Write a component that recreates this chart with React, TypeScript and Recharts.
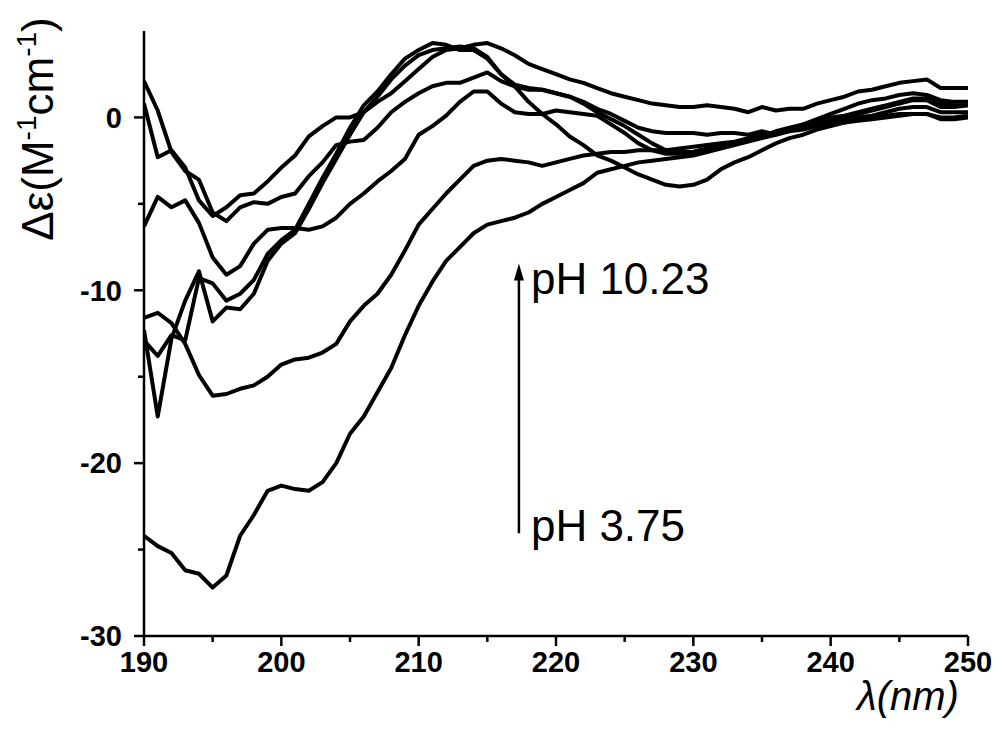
import React from 'react';
import { LineChart, Line, XAxis, YAxis, ReferenceLine } from 'recharts';

// wavelength grid, nm
const wavelengths = [
  190, 191, 192, 193, 194, 195, 196, 197, 198, 199,
  200, 201, 202, 203, 204, 205, 206, 207, 208, 209,
  210, 211, 212, 213, 214, 215, 216, 217, 218, 219,
  220, 221, 222, 223, 224, 225, 226, 227, 228, 229,
  230, 231, 232, 233, 234, 235, 236, 237, 238, 239,
  240, 241, 242, 243, 244, 245, 246, 247, 248, 249, 250,
];

// delta epsilon values (M-1 cm-1), one array per spectrum
const spectrumPh375 = [
  -24.2, -24.8, -25.2, -26.2, -26.4, -27.2, -26.5, -24.2, -23.0, -21.6,
  -21.3, -21.5, -21.6, -21.1, -20.0, -18.3, -17.3, -15.9, -14.5, -12.6,
  -10.9, -9.5, -8.3, -7.5, -6.7, -6.2, -6.0, -5.8, -5.5, -5.0,
  -4.6, -4.2, -3.8, -3.2, -3.0, -2.8, -2.6, -2.5, -2.4, -2.3,
  -2.2, -2.0, -1.8, -1.6, -1.4, -1.2, -1.0, -0.8, -0.7, -0.5,
  -0.4, -0.3, -0.2, -0.1, 0.0, 0.1, 0.2, 0.2, -0.1, -0.1, 0.0,
];

const spectrum2 = [
  -11.6, -11.3, -11.9, -13.1, -14.9, -16.1, -16.0, -15.7, -15.5, -15.0,
  -14.3, -14.0, -13.9, -13.6, -13.1, -11.8, -10.9, -10.2, -9.1, -7.7,
  -6.2, -5.3, -4.4, -3.6, -2.8, -2.5, -2.4, -2.5, -2.6, -2.8,
  -2.6, -2.4, -2.2, -2.1, -2.0, -2.0, -1.9, -1.9, -1.9, -1.8,
  -1.7, -1.6, -1.5, -1.4, -1.2, -1.0, -0.9, -0.7, -0.5, -0.4,
  -0.2, -0.1, 0.0, 0.1, 0.3, 0.5, 0.6, 0.6, 0.3, 0.3, 0.3,
];

const spectrum3 = [
  -6.3, -4.6, -5.2, -4.8, -6.1, -8.1, -9.1, -8.6, -7.3, -6.5,
  -6.4, -6.4, -6.5, -6.3, -5.8, -5.0, -4.4, -3.7, -3.1, -2.4,
  -1.0, -0.5, 0.1, 0.9, 1.5, 1.5, 0.8, 0.3, 0.2, 0.2,
  0.4, 0.3, 0.2, 0.1, -0.4, -0.9, -1.5, -1.9, -2.1, -2.1,
  -2.0, -1.8, -1.6, -1.5, -1.3, -1.1, -0.8, -0.6, -0.4, -0.2,
  0.0, 0.1, 0.3, 0.5, 0.7, 0.9, 1.1, 1.1, 0.8, 0.7, 0.7,
];

const spectrum4 = [
  -12.3, -17.3, -12.8, -10.6, -8.9, -11.8, -11.0, -11.1, -10.2, -8.3,
  -7.3, -6.7, -5.3, -3.8, -2.4, -1.0, 0.3, 1.2, 2.2, 3.0,
  3.6, 3.9, 4.0, 4.1, 4.0, 3.5, 2.5, 1.9, 1.7, 1.6,
  1.4, 1.2, 0.9, 0.5, 0.2, -0.2, -0.6, -0.8, -0.9, -0.9,
  -0.9, -1.0, -0.9, -0.9, -1.0, -0.8, -1.0, -0.7, -0.4, -0.1,
  0.2, 0.5, 0.8, 1.0, 1.1, 1.3, 1.4, 1.3, 1.0, 0.9, 0.9,
];

const spectrum5 = [
  -12.9, -13.8, -12.6, -12.9, -9.3, -9.6, -10.6, -10.2, -9.4, -7.9,
  -7.1, -6.5, -5.0, -3.5, -2.1, -0.6, 0.7, 1.5, 2.5, 3.4,
  3.9, 4.3, 4.2, 3.9, 3.9, 3.4, 2.5, 1.8, 0.9, 0.2,
  -0.4, -1.1, -1.6, -2.2, -2.5, -2.9, -3.3, -3.6, -3.9, -4.0,
  -3.9, -3.6, -3.0, -2.6, -2.3, -1.9, -1.5, -1.2, -1.0, -0.7,
  -0.5, -0.3, -0.1, 0.0, 0.1, 0.2, 0.2, 0.2, 0.0, 0.0, 0.1,
];

const spectrum6 = [
  2.1, 0.4, -2.0, -3.1, -3.6, -5.5, -6.0, -5.2, -4.9, -5.0,
  -4.6, -4.4, -3.4, -2.6, -1.6, -1.4, -1.3, -0.6, 0.3, 0.9,
  1.4, 1.8, 2.0, 2.0, 2.3, 2.6, 2.1, 1.8, 1.6, 1.6,
  1.4, 1.2, 0.8, 0.3, -0.1, -0.5, -1.0, -1.5, -1.9, -2.0,
  -2.0, -1.8, -1.7, -1.5, -1.3, -1.1, -0.9, -0.7, -0.5, -0.3,
  -0.1, 0.0, 0.2, 0.4, 0.6, 0.8, 1.0, 1.0, 0.6, 0.6, 0.7,
];

const spectrumPh1023 = [
  0.8, -2.3, -1.9, -2.9, -4.8, -5.7, -5.2, -4.5, -4.4, -3.7,
  -2.9, -2.2, -1.1, -0.5, 0.0, 0.0, 0.3, 0.9, 1.4, 2.1,
  2.8, 3.5, 3.9, 4.0, 4.2, 4.3, 4.0, 3.6, 3.1, 2.8,
  2.5, 2.2, 2.0, 1.7, 1.4, 1.2, 1.0, 0.8, 0.7, 0.6,
  0.6, 0.7, 0.6, 0.5, 0.3, 0.6, 0.4, 0.5, 0.5, 0.8,
  1.0, 1.2, 1.5, 1.6, 1.8, 2.0, 2.1, 2.2, 1.7, 1.7, 1.7,
];

const allSpectra = [spectrumPh375, spectrum2, spectrum3, spectrum4, spectrum5, spectrum6, spectrumPh1023];

const xTicks = [190, 195, 200, 205, 210, 215, 220, 225, 230, 235, 240, 245, 250];
const yTicks = [-30, -25, -20, -15, -10, -5, 0];

const toPoints = (vals: number[]) => wavelengths.map((x, i) => ({ x, y: vals[i] }));

const sans = '"Liberation Sans", Arial, Helvetica, sans-serif';
const tickFont = { fontFamily: sans, fontSize: 29, fontWeight: 700, fill: '#000' };

const BottomTick = (props: any) => {
  const { x, y, payload } = props;
  const major = payload.value % 10 === 0;
  return (
    <g>
      <line x1={x} y1={y} x2={x} y2={y + (major ? 10 : 6)} stroke="#000" strokeWidth={2.5} />
      {major && (
        <text x={x} y={y + 15} dy="0.71em" textAnchor="middle" style={tickFont}>
          {payload.value}
        </text>
      )}
    </g>
  );
};

const LeftTick = (props: any) => {
  const { x, y, payload } = props;
  const major = payload.value % 10 === 0;
  return (
    <g>
      <line x1={x - (major ? 10 : 6)} y1={y} x2={x} y2={y} stroke="#000" strokeWidth={2.5} />
      {major && (
        <text x={x - 22} y={y} dy="0.355em" textAnchor="end" style={tickFont}>
          {payload.value}
        </text>
      )}
    </g>
  );
};

// arrow from pH 3.75 up to pH 10.23, with the two labels
const PhArrow = (props: any) => {
  const { x1, y1, y2 } = props;
  const x = x1;
  const top = Math.min(y1, y2);
  const bottom = Math.max(y1, y2);
  const labelStyle = { fontFamily: sans, fontSize: 44, fill: '#000' };
  return (
    <g>
      <line x1={x} y1={bottom} x2={x} y2={top + 12} stroke="#000" strokeWidth={2.5} />
      <polygon points={`${x},${top} ${x - 5},${top + 17} ${x + 5},${top + 17}`} fill="#000" />
      <text x={x + 12} y={top + 31} style={labelStyle}>pH 10.23</text>
      <text x={x + 12} y={bottom + 8} style={labelStyle}>pH 3.75</text>
    </g>
  );
};

export default function App() {
  return (
    <div style={{ position: 'relative', width: 984, height: 717 }}>
      <LineChart width={984} height={717} margin={{ top: 23, right: 24, left: 0, bottom: 0 }}>
        <XAxis
          xAxisId="b"
          type="number"
          dataKey="x"
          domain={[190, 250]}
          ticks={xTicks}
          height={89}
          tickSize={0}
          tickMargin={0}
          tickLine={false}
          tick={<BottomTick />}
          axisLine={{ stroke: '#000', strokeWidth: 2.5 }}
          allowDataOverflow
        />
        <XAxis
          xAxisId="t"
          orientation="top"
          type="number"
          dataKey="x"
          domain={[190, 250]}
          ticks={xTicks}
          height={0}
          tickSize={3}
          tick={false}
          tickLine={{ stroke: '#000', strokeWidth: 2 }}
          axisLine={{ stroke: '#000', strokeWidth: 2.5 }}
          allowDataOverflow
        />
        <YAxis
          yAxisId="l"
          type="number"
          domain={[-30, 5]}
          ticks={yTicks}
          width={136}
          tickSize={0}
          tickMargin={0}
          tickLine={false}
          tick={<LeftTick />}
          axisLine={{ stroke: '#000', strokeWidth: 2.5 }}
          allowDataOverflow
        />
        <YAxis
          yAxisId="r"
          orientation="right"
          type="number"
          domain={[-30, 5]}
          ticks={yTicks}
          width={0}
          tickSize={3}
          tick={false}
          tickLine={{ stroke: '#000', strokeWidth: 2 }}
          axisLine={{ stroke: '#000', strokeWidth: 2.5 }}
          allowDataOverflow
        />
        {allSpectra.map((vals, i) => (
          <Line
            key={i}
            xAxisId="b"
            yAxisId="l"
            data={toPoints(vals)}
            dataKey="y"
            type="linear"
            stroke="#000"
            strokeWidth={4}
            strokeLinejoin="round"
            dot={false}
            activeDot={false}
            isAnimationActive={false}
          />
        ))}
        <ReferenceLine
          xAxisId="b"
          yAxisId="l"
          segment={[{ x: 217.3, y: -24.05 }, { x: 217.3, y: -8.45 }]}
          shape={<PhArrow />}
        />
      </LineChart>
      <svg
        width={984}
        height={717}
        style={{ position: 'absolute', left: 0, top: 0, pointerEvents: 'none' }}
      >
        <text
          transform="translate(45,121) rotate(-90)"
          textAnchor="middle"
          style={{ fontFamily: sans, fontSize: 44, fill: '#000' }}
        >
          Δε(M<tspan dy={-17} fontSize={28}>-1</tspan>
          <tspan dy={17}>cm</tspan>
          <tspan dy={-17} fontSize={28}>-1</tspan>
          <tspan dy={17}>)</tspan>
        </text>
        <text
          x={900}
          y={702}
          textAnchor="middle"
          style={{ fontFamily: sans, fontSize: 40, fontStyle: 'italic', fill: '#000' }}
        >
          λ(nm)
        </text>
      </svg>
    </div>
  );
}
